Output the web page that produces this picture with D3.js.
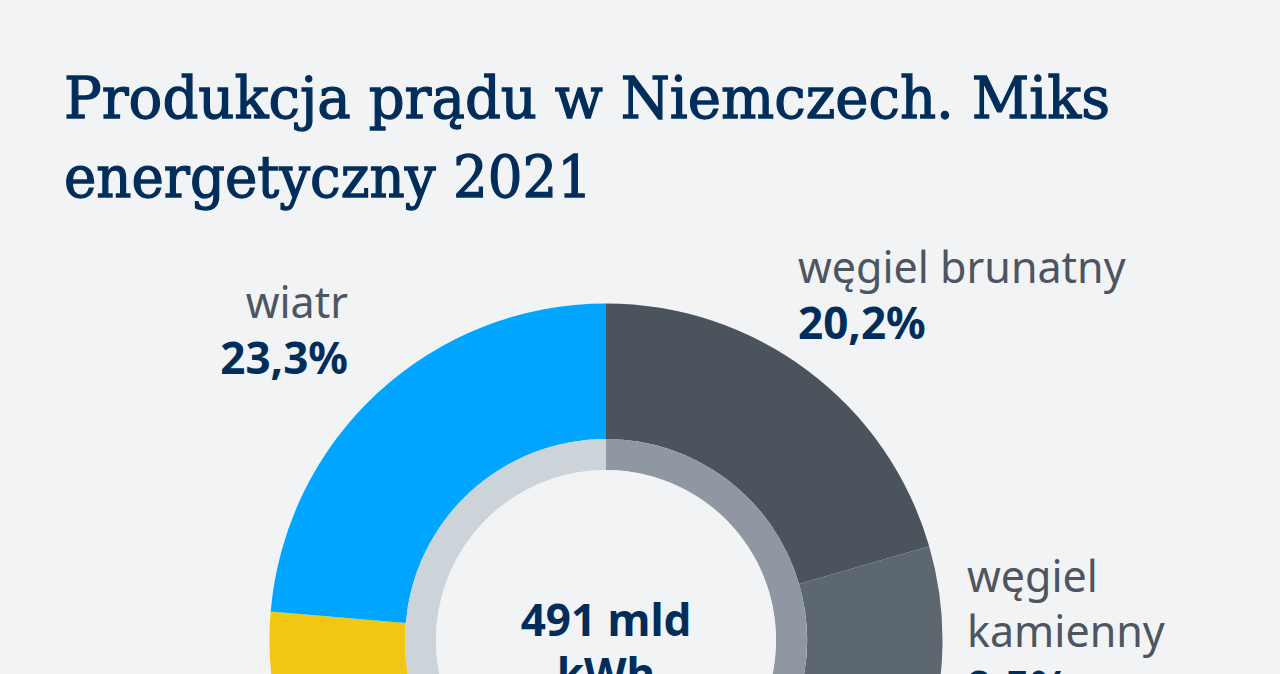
<!DOCTYPE html>
<html>
<head>
<meta charset="utf-8">
<script src="https://cdn.jsdelivr.net/npm/d3@7"></script>
<style>
  html, body { margin: 0; padding: 0; background: #f1f3f5; }
  svg { display: block; }
</style>
</head>
<body>
<div id="chart"></div>
<script>
// ---- data ----
const titleLines = ["Produkcja prądu w Niemczech. Miks", "energetyczny 2021"];
const categories = ["węgiel brunatny", "węgiel kamienny", "gaz ziemny", "energia jądrowa", "inne", "biomasa", "fotowoltaika", "wiatr"];
const shares = [20.2, 9.5, 10.5, 12.6, 4.5, 8.8, 9.1, 23.3];
const sliceColors = ["#4b535c", "#5d6770", "#7b848d", "#6a737c", "#a3abb3", "#2e9c5a", "#f0c814", "#00a5ff"];
const groupNames = ["konwencjonalne", "odnawialne"];
const groupShares = [57.3, 41.2];
const groupColors = ["#8f98a2", "#ccd3d9"];
const centerLines = ["491 mld", "kWh"];
const labelNames = [["węgiel brunatny"], ["węgiel", "kamienny"], ["wiatr"]];
const labelValues = ["20,2%", "9,5%", "23,3%"];
const labelCats = ["węgiel brunatny", "węgiel kamienny", "wiatr"];

// ---- layout ----
const W = 1280, H = 674;
const cx = 606, cy = 640;
const outerR = 336.5, midR = 201, ringInner = 170;
const navy = "#002d5a", grey = "#4d5560";

const svg = d3.select("#chart").append("svg").attr("width", W).attr("height", H);
svg.append("rect").attr("width", W).attr("height", H).attr("fill", "#f1f3f5");

// title
const titleWidths = [1046, 528];
const titleBase = [118, 197];
titleLines.forEach((t, i) => {
  svg.append("text")
    .attr("x", 64).attr("y", titleBase[i])
    .attr("font-family", "'DejaVu Serif', serif")
    .attr("font-size", 58)
    .attr("fill", navy)
    .attr("stroke", navy)
    .attr("stroke-width", 1.3)
    .attr("textLength", titleWidths[i])
    .attr("lengthAdjust", "spacingAndGlyphs")
    .text(t);
});

const g = svg.append("g").attr("transform", `translate(${cx},${cy})`);

const pie = d3.pie().sort(null).value(d => d.v);
const data = categories.map((c, i) => ({ c, v: shares[i], col: sliceColors[i] }));
const arcs = pie(data);
const arc = d3.arc().innerRadius(midR).outerRadius(outerR);
g.selectAll("path.slice").data(arcs).join("path")
  .attr("class", "slice")
  .attr("d", arc)
  .attr("fill", d => d.data.col);

const ringData = groupNames.map((n, i) => ({ n, v: groupShares[i], col: groupColors[i] }));
const ringArc = d3.arc().innerRadius(ringInner).outerRadius(midR);
g.selectAll("path.ring").data(pie(ringData)).join("path")
  .attr("class", "ring")
  .attr("d", ringArc)
  .attr("fill", d => d.data.col);

g.append("circle").attr("r", ringInner).attr("fill", "#f1f3f5");

// center text
const centerBase = [-4, 50];
centerLines.forEach((t, i) => {
  g.append("text")
    .attr("x", 0).attr("y", centerBase[i])
    .attr("text-anchor", "middle")
    .attr("font-family", "'Noto Sans', sans-serif")
    .attr("font-weight", 700)
    .attr("font-size", 44)
    .attr("fill", navy)
    .text(t);
});

// labels
const labelPos = [
  { x: 798, y: 283, anchor: "start" },
  { x: 967, y: 592, anchor: "start" },
  { x: 348, y: 318, anchor: "end" }
];
const lineGap = 55;
labelCats.forEach((c, i) => {
  const p = labelPos[i];
  const lines = labelNames[i];
  lines.forEach((t, j) => {
    svg.append("text")
      .attr("x", p.x).attr("y", p.y + j * lineGap)
      .attr("text-anchor", p.anchor)
      .attr("font-family", "'Noto Sans', sans-serif")
      .attr("font-size", 43)
      .attr("fill", grey)
      .text(t);
  });
  svg.append("text")
    .attr("x", p.x).attr("y", p.y + lines.length * lineGap + 1)
    .attr("text-anchor", p.anchor)
    .attr("font-family", "'Noto Sans', sans-serif")
    .attr("font-weight", 700)
    .attr("font-size", 44)
    .attr("fill", navy)
    .text(labelValues[i]);
});
</script>
</body>
</html>
